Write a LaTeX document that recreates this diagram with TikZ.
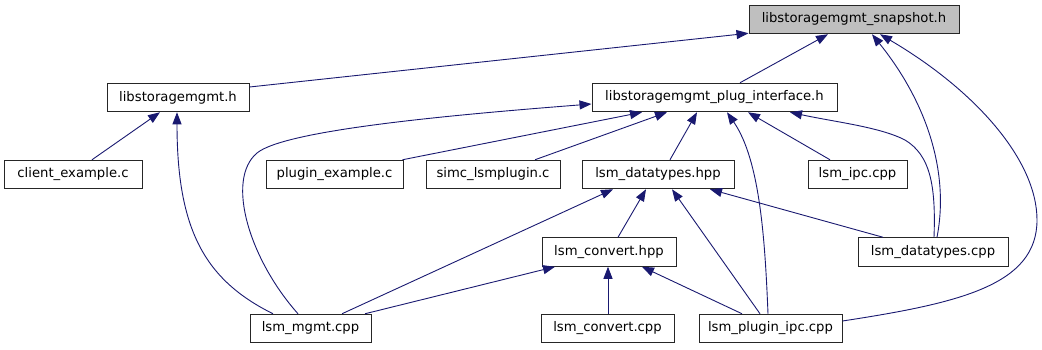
\documentclass[tikz,border=0pt]{standalone}
\usepackage{fontspec}
\setmainfont{DejaVu Sans}
\usetikzlibrary{arrows.meta}
\definecolor{edgeblue}{HTML}{191970}
\definecolor{rootgray}{HTML}{BFBFBF}
\begin{document}
\begin{tikzpicture}[x=1pt,y=-1pt,
  filebox/.style={draw=black!85, line width=1pt, fill=white, inner sep=0pt,
    minimum height=28.5pt, font=\fontsize{13.2}{15}\selectfont},
  dep/.style={draw=edgeblue, line width=0.9pt,
    -{Triangle[length=12pt,width=9pt]}}]
\useasboundingbox (0,0) rectangle (1042,349);

% files
\node[filebox, fill=rootgray, minimum width=210pt] (snap) at (854,19.5) {libstoragemgmt\_snapshot.h};
\node[filebox, minimum width=142pt] (lib)  at (178,97.5) {libstoragemgmt.h};
\node[filebox, minimum width=245pt] (plug) at (714.5,97.5) {libstoragemgmt\_plug\_interface.h};
\node[filebox, minimum width=138pt] (client) at (73,174.5) {client\_example.c};
\node[filebox, minimum width=137pt] (pluginex) at (334.5,174.5) {plugin\_example.c};
\node[filebox, minimum width=134pt] (simc) at (493,174.5) {simc\_lsmplugin.c};
\node[filebox, minimum width=152pt] (dthpp) at (658,174.5) {lsm\_datatypes.hpp};
\node[filebox, minimum width=99pt] (ipc) at (857.5,174.5) {lsm\_ipc.cpp};
\node[filebox, minimum width=134pt] (cvhpp) at (609,252) {lsm\_convert.hpp};
\node[filebox, minimum width=150pt] (dtcpp) at (933,252) {lsm\_datatypes.cpp};
\node[filebox, minimum width=121pt] (mgmt) at (310.5,328.5) {lsm\_mgmt.cpp};
\node[filebox, minimum width=133pt] (cvcpp) at (607.5,328.5) {lsm\_convert.cpp};
\node[filebox, minimum width=143pt] (pipc) at (770.5,328.5) {lsm\_plugin\_ipc.cpp};

% includes of libstoragemgmt_snapshot.h
\draw[dep] ([yshift=10.5pt]lib.east) -- ([yshift=1pt]snap.south west);
\draw[dep] ([xshift=25.5pt]plug.north) -- ([xshift=-26pt]snap.south);
\draw[dep] ([xshift=4pt]dtcpp.north) .. controls (950,170) and (925,100) .. ([xshift=18pt]snap.south);
\draw[dep] ([yshift=7.5pt]pipc.east) .. controls (960,303) and (1037,285) .. (1037,220)
   .. controls (1037,160) and (975,90) .. ([xshift=26pt]snap.south);

% includes of libstoragemgmt.h
\draw[dep] ([xshift=19pt]client.north) -- ([xshift=-18pt]lib.south);
\draw[dep] ([xshift=-37.5pt]mgmt.north) .. controls (205,280) and (177,230) .. ([xshift=-1pt]lib.south);

% includes of libstoragemgmt_plug_interface.h
\draw[dep] ([xshift=-12.5pt]mgmt.north) .. controls (250,260) and (225,180) .. (257,153)
   .. controls (285,130) and (450,115) .. ([yshift=-6.5pt]plug.west);
\draw[dep] ([xshift=-1pt]pluginex.north east) -- ([xshift=-72.5pt]plug.south);
\draw[dep] ([xshift=42pt]simc.north) -- ([xshift=-47.5pt]plug.south);
\draw[dep] ([xshift=12pt]dthpp.north) -- ([xshift=-17.5pt]plug.south);
\draw[dep] ([xshift=-2.5pt]pipc.north) .. controls (765,240) and (760,160) .. ([xshift=12.5pt]plug.south);
\draw[dep] ([xshift=-27.5pt]ipc.north) -- ([xshift=33.5pt]plug.south);
\draw[dep] ([xshift=1pt]dtcpp.north) .. controls (936,185) and (930,155) .. (905,140)
   .. controls (880,127) and (835,122) .. ([xshift=75.5pt]plug.south);

% includes of lsm_datatypes.hpp
\draw[dep] ([xshift=31.5pt]mgmt.north) -- ([xshift=-45pt]dthpp.south);
\draw[dep] ([xshift=9pt]cvhpp.north) -- ([xshift=-12pt]dthpp.south);
\draw[dep] ([xshift=-10.5pt]pipc.north) -- ([xshift=14pt]dthpp.south);
\draw[dep] ([xshift=-50pt]dtcpp.north) -- ([xshift=52pt]dthpp.south);

% includes of lsm_convert.hpp
\draw[dep] ([xshift=54.5pt]mgmt.north) -- ([xshift=-54pt]cvhpp.south);
\draw[dep] ([xshift=0.5pt]cvcpp.north) -- ([xshift=-1pt]cvhpp.south);
\draw[dep] ([xshift=-28.5pt]pipc.north) -- ([xshift=33pt]cvhpp.south);
\end{tikzpicture}
\end{document}
